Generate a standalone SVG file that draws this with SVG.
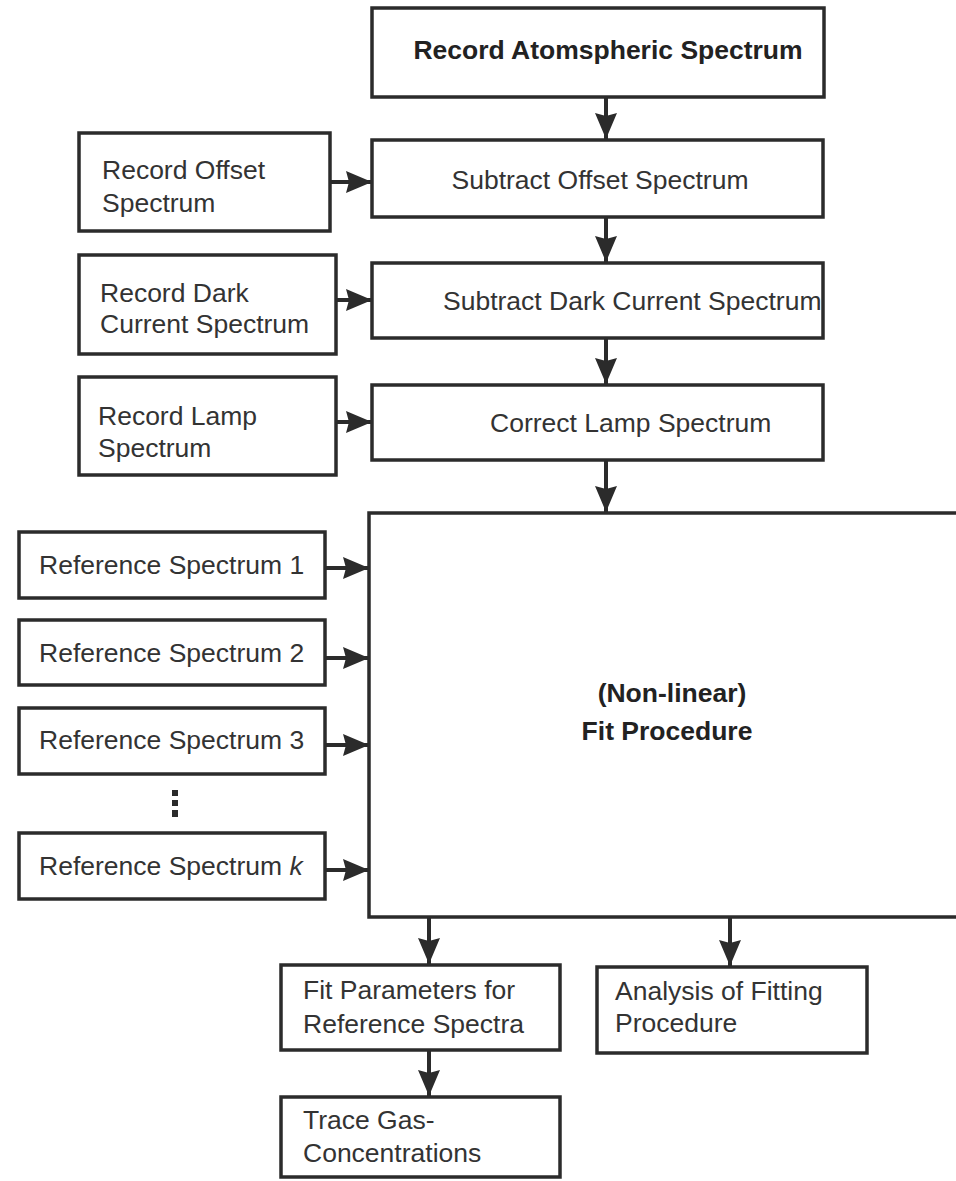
<svg xmlns="http://www.w3.org/2000/svg" width="956" height="1181" viewBox="0 0 956 1181">
<style>
.box{fill:#fff;stroke:#2b2b2b;stroke-width:3.5}
.t{font-family:"Liberation Sans",Arial,sans-serif;font-size:26.5px;fill:#333}
.c{text-anchor:middle}
.b{font-weight:bold;fill:#222}
.ln{stroke:#2b2b2b;stroke-width:4;fill:none}
</style>
<defs>
<marker id="ah" markerUnits="userSpaceOnUse" markerWidth="28" markerHeight="24" refX="26" refY="11" orient="auto">
<path d="M0,0 L26,11 L0,22 L3,11 z" fill="#2b2b2b"/>
</marker>
</defs>
<rect width="956" height="1181" fill="#fff"/>
<g id="connectors">
<line class="ln" x1="606" y1="97" x2="606" y2="139" marker-end="url(#ah)" stroke-width="5"/>
<line class="ln" x1="606" y1="217" x2="606" y2="262" marker-end="url(#ah)"/>
<line class="ln" x1="606" y1="338" x2="606" y2="384" marker-end="url(#ah)"/>
<line class="ln" x1="606" y1="460" x2="606" y2="512" marker-end="url(#ah)"/>
<line class="ln" x1="330" y1="182" x2="372" y2="182" marker-end="url(#ah)" stroke-width="5"/>
<line class="ln" x1="336" y1="300" x2="372" y2="300" marker-end="url(#ah)" stroke-width="3"/>
<line class="ln" x1="336" y1="422" x2="372" y2="422" marker-end="url(#ah)" stroke-width="3"/>
<line class="ln" x1="325" y1="568" x2="369" y2="568" marker-end="url(#ah)" stroke-width="5"/>
<line class="ln" x1="325" y1="658" x2="369" y2="658" marker-end="url(#ah)" stroke-width="5"/>
<line class="ln" x1="325" y1="745" x2="369" y2="745" marker-end="url(#ah)" stroke-width="5"/>
<line class="ln" x1="325" y1="870" x2="369" y2="870" marker-end="url(#ah)" stroke-width="5"/>
<line class="ln" x1="429" y1="917" x2="429" y2="964" marker-end="url(#ah)" stroke-width="3"/>
<line class="ln" x1="730" y1="917" x2="730" y2="966" marker-end="url(#ah)" stroke-width="3"/>
<line class="ln" x1="429" y1="1050" x2="429" y2="1096" marker-end="url(#ah)" stroke-width="3"/>
</g>
<g id="n-atmos"><rect class="box" x="372" y="8" width="452" height="89"/><text class="t c b" x="608" y="59" font-size="22">Record Atomspheric Spectrum</text></g>
<g id="n-suboffset"><rect class="box" x="372" y="140" width="451" height="77"/><text class="t c" x="600" y="189" font-size="24.5">Subtract Offset Spectrum</text></g>
<g id="n-subdark"><rect class="box" x="372" y="263" width="451" height="75"/><text class="t" x="443" y="310" font-size="25">Subtract Dark Current Spectrum</text></g>
<g id="n-lamp"><rect class="box" x="372" y="385" width="451" height="75"/><text class="t" x="490" y="432" font-size="26">Correct Lamp Spectrum</text></g>
<g id="n-recoffset"><rect class="box" x="79" y="133" width="251" height="98"/><text class="t" x="102" y="179">Record Offset</text><text class="t" x="102" y="212">Spectrum</text></g>
<g id="n-recdark"><rect class="box" x="79" y="255" width="257" height="99"/><text class="t" x="100" y="302">Record Dark</text><text class="t" x="100" y="333">Current Spectrum</text></g>
<g id="n-reclamp"><rect class="box" x="79" y="377" width="257" height="98"/><text class="t" x="98" y="425">Record Lamp</text><text class="t" x="98" y="457">Spectrum</text></g>
<g id="n-fit"><rect class="box" x="369" y="513" width="620" height="404"/><text class="t c b" x="672" y="702" font-size="34">(Non-linear)</text><text class="t c b" x="667" y="740" font-size="34">Fit Procedure</text></g>
<g id="n-ref1"><rect class="box" x="19" y="532" width="306" height="66"/><text class="t" x="39" y="574">Reference Spectrum 1</text></g>
<g id="n-ref2"><rect class="box" x="19" y="620" width="306" height="65"/><text class="t" x="39" y="662">Reference Spectrum 2</text></g>
<g id="n-ref3"><rect class="box" x="19" y="708" width="306" height="66"/><text class="t" x="39" y="749">Reference Spectrum 3</text></g>
<g id="dots" fill="#2b2b2b"><rect x="172" y="790" width="6" height="6"/><rect x="172" y="800" width="6" height="6"/><rect x="172" y="810" width="6" height="7"/></g>
<g id="n-refk"><rect class="box" x="19" y="833" width="306" height="66"/><text class="t" x="39" y="875">Reference Spectrum <tspan font-style="italic">k</tspan></text></g>
<g id="n-fitparam"><rect class="box" x="281" y="965" width="279" height="85"/><text class="t" x="303" y="999" font-size="26">Fit Parameters for</text><text class="t" x="303" y="1033" font-size="26">Reference Spectra</text></g>
<g id="n-analysis"><rect class="box" x="597" y="967" width="270" height="86"/><text class="t" x="615" y="1000" font-size="25.5">Analysis of Fitting</text><text class="t" x="615" y="1032" font-size="25.5">Procedure</text></g>
<g id="n-trace"><rect class="box" x="281" y="1097" width="279" height="80"/><text class="t" x="303" y="1129" font-size="26">Trace Gas-</text><text class="t" x="303" y="1162" font-size="26">Concentrations</text></g>
</svg>
